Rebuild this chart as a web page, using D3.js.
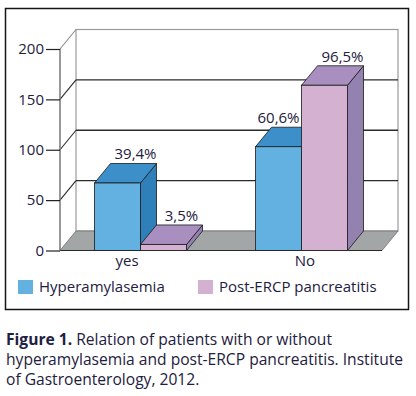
<!DOCTYPE html>
<html>
<head>
<meta charset="utf-8">
<script src="https://cdn.jsdelivr.net/npm/d3@7"></script>
<style>
  body { margin: 0; background: #fff; }
  svg { display: block; }
  text { font-family: "Open Sans", sans-serif; fill: #1e2040; }
</style>
</head>
<body>
<div id="chart"></div>
<script>
const categories = ['yes', 'No'];
const seriesNames = ['Hyperamylasemia', 'Post-ERCP pancreatitis'];
const hyperamylasemia = [67, 103];
const pancreatitis = [6, 164];
const yTicks = [0, 50, 100, 150, 200];
const caption = [
  'Relation of patients with or without',
  'hyperamylasemia and post-ERCP pancreatitis. Institute',
  'of Gastroenterology, 2012.'
];

const colors = {
  'Hyperamylasemia': { front: '#62b1e1', top: '#3d8fc9', side: '#2f80b8' },
  'Post-ERCP pancreatitis': { front: '#d5b1d1', top: '#a98fc0', side: '#9382b0' }
};

const seriesValues = [hyperamylasemia, pancreatitis];
const totals = seriesValues.map(v => d3.sum(v));
const bars = [];
categories.forEach((c, i) => {
  seriesNames.forEach((s, j) => {
    bars.push({ cat: c, series: s, value: seriesValues[j][i], pct: seriesValues[j][i] / totals[j] });
  });
});

const W = 416, H = 396;
const plot = { left: 60, right: 382, top: 49, bottom: 250.5 };
const dx = 16, dy = -19.5;   // depth offset of the 3d look

const svg = d3.select('#chart').append('svg')
  .attr('width', W)
  .attr('height', H);

svg.append('rect')
  .attr('x', 5.5).attr('y', 8.5)
  .attr('width', 403).attr('height', 301)
  .attr('fill', 'none')
  .attr('stroke', '#151515')
  .attr('stroke-width', 1.5);

const y = d3.scaleLinear().domain([0, 200]).range([plot.bottom, plot.top]);
const x = d3.scaleBand().domain(categories).range([plot.left, plot.right]);
const xInner = d3.scaleBand().domain(seriesNames)
  .range([0, x.bandwidth()])
  .paddingOuter(0.75);
const xLabel = d3.scaleBand().domain(categories).range([plot.left - 22, plot.right + 12]);

// back wall
svg.append('rect')
  .attr('x', plot.left + dx).attr('y', y(200) + dy)
  .attr('width', plot.right - plot.left).attr('height', y(0) - y(200))
  .attr('fill', '#fff')
  .attr('stroke', '#9a9a9a')
  .attr('stroke-width', 1.2);

// floor
const floorPts = [
  [plot.left, y(0)], [plot.left + dx, y(0) + dy],
  [plot.right + dx, y(0) + dy], [plot.right, y(0)]
];
svg.append('polygon')
  .attr('points', floorPts.map(p => p.join(',')).join(' '))
  .attr('fill', '#a3a6a6')
  .attr('stroke', '#6e7070')
  .attr('stroke-width', 0.8);
svg.append('line')
  .attr('x1', plot.left).attr('x2', plot.right)
  .attr('y1', y(0)).attr('y2', y(0))
  .attr('stroke', '#2a2a2a').attr('stroke-width', 1.2);

// gridlines on the wall + diagonals on the side
const grid = yTicks.filter(t => t > 0);
svg.selectAll('.grid')
  .data(grid.filter(t => t < 200))
  .enter().append('line')
  .attr('class', 'grid')
  .attr('x1', plot.left + dx).attr('x2', plot.right + dx)
  .attr('y1', d => y(d) + dy).attr('y2', d => y(d) + dy)
  .attr('stroke', '#2b2b2b').attr('stroke-width', 1.3);

svg.selectAll('.diag')
  .data(grid)
  .enter().append('line')
  .attr('class', 'diag')
  .attr('x1', plot.left).attr('x2', plot.left + dx)
  .attr('y1', d => y(d)).attr('y2', d => y(d) + dy)
  .attr('stroke', d => d === 200 ? '#8a8a8a' : '#2b2b2b')
  .attr('stroke-width', 1.1);

// y axis
svg.append('line')
  .attr('x1', plot.left).attr('x2', plot.left)
  .attr('y1', y(200)).attr('y2', y(0))
  .attr('stroke', '#777').attr('stroke-width', 1.5);

svg.append('g')
  .attr('transform', `translate(${plot.left},0)`)
  .call(d3.axisLeft(y).tickValues(yTicks).tickSize(14).tickPadding(2))
  .call(g => g.select('.domain').remove())
  .call(g => g.selectAll('line').attr('stroke', '#222').attr('stroke-width', 1.2))
  .call(g => g.selectAll('text')
    .attr('font-family', '"Open Sans", sans-serif')
    .attr('font-size', 15)
    .attr('fill', '#1e2040'));

// bars
const barG = svg.append('g');
bars.forEach(b => {
  const x0 = x(b.cat) + xInner(b.series);
  const w = xInner.bandwidth();
  const yv = y(b.value), y0 = y(0);
  const c = colors[b.series];
  const g = barG.append('g');
  const poly = pts => pts.map(p => p.join(',')).join(' ');
  g.append('polygon')
    .attr('points', poly([[x0 + w, yv], [x0 + w + dx, yv + dy], [x0 + w + dx, y0 + dy], [x0 + w, y0]]))
    .attr('fill', c.side).attr('stroke', '#1a1a1a').attr('stroke-width', 0.8)
    .attr('stroke-linejoin', 'round');
  g.append('polygon')
    .attr('points', poly([[x0, yv], [x0 + dx, yv + dy], [x0 + w + dx, yv + dy], [x0 + w, yv]]))
    .attr('fill', c.top).attr('stroke', '#1a1a1a').attr('stroke-width', 0.8)
    .attr('stroke-linejoin', 'round');
  g.append('rect')
    .attr('x', x0).attr('y', yv)
    .attr('width', w).attr('height', y0 - yv)
    .attr('fill', c.front).attr('stroke', '#1a1a1a').attr('stroke-width', 0.8);
});

// value labels (share of each series)
const fmt = v => d3.format('.1f')(v * 100).replace('.', ',') + '%';
bars.forEach((b, i) => {
  const x0 = x(b.cat) + xInner(b.series);
  const w = xInner.bandwidth();
  const next = bars[i + 1];
  const blocked = next && next.cat === b.cat && next.value > b.value;
  svg.append('text')
    .attr('x', blocked ? x0 + w - 2 : x0 + w / 2 + dx + 2)
    .attr('y', y(b.value) + dy - 4)
    .attr('text-anchor', blocked ? 'end' : 'middle')
    .attr('font-size', 15)
    .text(fmt(b.pct));
});

// category labels
svg.selectAll('.cat')
  .data(categories)
  .enter().append('text')
  .attr('class', 'cat')
  .attr('x', d => xLabel(d) + xLabel.bandwidth() / 2)
  .attr('y', 266)
  .attr('text-anchor', 'middle')
  .attr('font-size', 15)
  .text(d => d);

// legend
const legend = svg.selectAll('.leg')
  .data(seriesNames)
  .enter().append('g')
  .attr('class', 'leg')
  .attr('transform', (d, i) => `translate(${18 + i * 180},280)`);
legend.append('rect')
  .attr('width', 15).attr('height', 14)
  .attr('fill', d => colors[d].front);
legend.append('text')
  .attr('x', 21).attr('y', 11.5)
  .attr('font-size', 15)
  .text(d => d);

// caption, one text per line
caption.forEach((line, i) => {
  const t = svg.append('text')
    .attr('x', 6)
    .attr('y', 344.5 + i * 20)
    .attr('font-size', 15.6);
  if (i === 0) {
    t.append('tspan').attr('font-weight', 'bold').text('Figure 1. ');
  }
  t.append('tspan').text(line);
});
</script>
</body>
</html>
